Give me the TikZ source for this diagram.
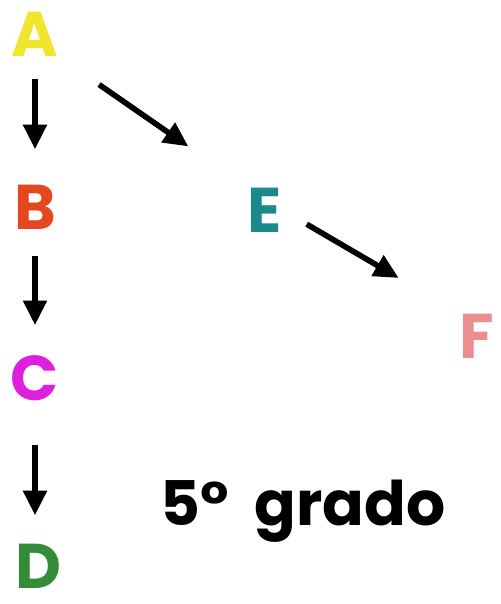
\documentclass[tikz,border=0pt]{standalone}
\usepackage{fontspec}
\setmainfont{Poppins}
\usetikzlibrary{arrows.meta, positioning}
\definecolor{letraA}{RGB}{240,230,45}
\definecolor{letraB}{RGB}{228,72,30}
\definecolor{letraC}{RGB}{222,32,222}
\definecolor{letraD}{RGB}{52,140,56}
\definecolor{letraE}{RGB}{28,138,138}
\definecolor{letraF}{RGB}{236,142,142}
\tikzstyle{letra} = [inner sep=0pt, font=\fontsize{36}{36}\selectfont\bfseries]
\tikzstyle{flecha} = [line width=3.2pt, draw=black, -{Triangle[length=14pt, width=13pt]}]
\begin{document}
\begin{tikzpicture}[x=0.02cm, y=-0.02cm]
        \useasboundingbox (0,0) rectangle (500,604);

        % Nodos
        \node (A) [letra, text=letraA] at (35,34) {A};
        \node (B) [letra, text=letraB] at (35,207) {B};
        \node (C) [letra, text=letraC] at (35,378) {C};
        \node (D) [letra, text=letraD] at (38,566) {D};
        \node (E) [letra, text=letraE] at (265,210) {E};
        \node (F) [letra, text=letraF] at (477,336) {F};
        \node (grado) [inner sep=0pt, font=\fontsize{35}{35}\selectfont\bfseries] at (303,511) {5°~~grado};

        % Conexiones
        \draw [flecha, shorten <=13pt, shorten >=20pt] (A.south) -- (A.south |- B.north);
        \draw [flecha, shorten <=15pt, shorten >=17pt] (B.south) -- (B.south |- C.north);
        \draw [flecha, shorten <=25pt, shorten >=16pt] (C.south) -- (C.south |- D.north);
        \draw [flecha, shorten <=28pt, shorten >=41pt] (A.south east) -- (E.north west);
        \draw [flecha, shorten <=16pt, shorten >=40pt] (E.east) -- (F.north west);

    \end{tikzpicture}
\end{document}
